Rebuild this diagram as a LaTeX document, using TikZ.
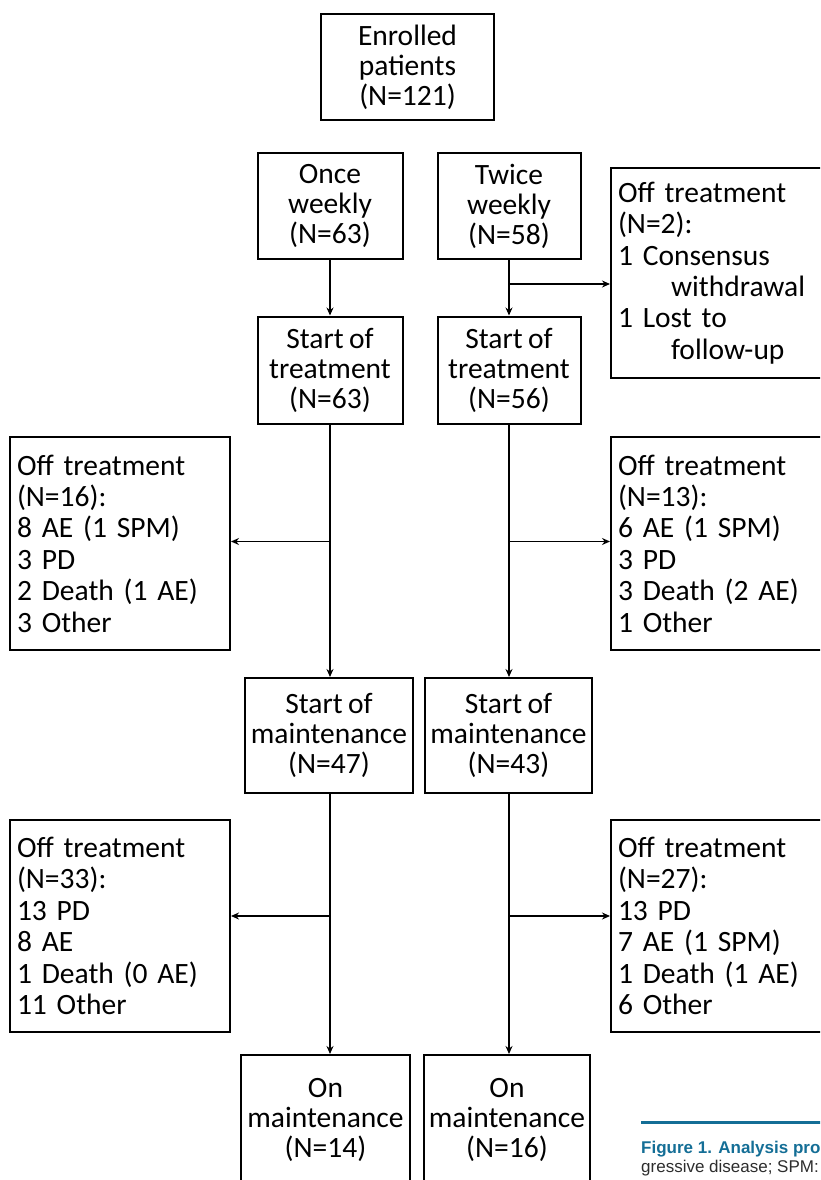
\documentclass[tikz,border=0pt]{standalone}
\usepackage{fontspec}
\setmainfont[WordSpace=0.8]{Carlito}
\newfontfamily\capfont{Liberation Sans}
\usetikzlibrary{arrows.meta,positioning,calc}
\definecolor{capblue}{RGB}{20,110,150}
\definecolor{capgray}{RGB}{45,45,45}
\tikzset{
  box/.style={draw, line width=2pt, align=center, inner sep=2pt,
    font=\fontsize{29.5}{30}\selectfont},
  offbox/.style={draw, line width=2pt, align=left, text width=#1,
    inner xsep=7pt, inner ysep=4pt, font=\fontsize{29.5}{31.4}\selectfont},
  offbox/.default=206pt,
  link/.style={->, line width=1.6pt}
}
\begin{document}
\begin{tikzpicture}[x=1pt, y=-1pt, >={Stealth[length=8pt,width=7pt]}, line join=miter]
  \useasboundingbox (0,0) rectangle (820,1180);
  \clip (0,0) rectangle (820,1180);
  % enrolment
  \node[box, minimum width=173, minimum height=106] (enrol) at (407.5,67) {Enrolled\\patients\\(N=121)};
  % arms
  \node[box, minimum width=145, minimum height=106] (once) at (330,206) {Once\\weekly\\(N=63)};
  \node[box, minimum width=143, minimum height=106] (twice) at (509,206) {Twice\\weekly\\(N=58)};
  \node[offbox=250pt, minimum height=210, anchor=west] (offpre) at (610,273)
    {Off treatment\\(N=2):\\1 Consensus\\\hspace*{1.8em}withdrawal\\1 Lost to\\\hspace*{1.8em}follow-up};
  % treatment
  \node[box, minimum width=145, minimum height=107] (treatl) at (330,370) {Start of\\treatment\\(N=63)};
  \node[box, minimum width=143, minimum height=107] (treatr) at (509,370) {Start of\\treatment\\(N=56)};
  \node[offbox, minimum height=213] (offtl) at (120,543.5)
    {Off treatment\\(N=16):\\8 AE (1 SPM)\\3 PD\\2 Death (1 AE)\\3 Other};
  \node[offbox=250pt, minimum height=213, anchor=west] (offtr) at (610,543.5)
    {Off treatment\\(N=13):\\6 AE (1 SPM)\\3 PD\\3 Death (2 AE)\\1 Other};
  % maintenance
  \node[box, minimum width=168, minimum height=115] (maintl) at (329,735.5) {Start of\\maintenance\\(N=47)};
  \node[box, minimum width=167, minimum height=115] (maintr) at (508.5,735.5) {Start of\\maintenance\\(N=43)};
  \node[offbox, minimum height=212] (offml) at (120,926)
    {Off treatment\\(N=33):\\13 PD\\8 AE\\1 Death (0 AE)\\11 Other};
  \node[offbox=250pt, minimum height=212, anchor=west] (offmr) at (610,926)
    {Off treatment\\(N=27):\\13 PD\\7 AE (1 SPM)\\1 Death (1 AE)\\6 Other};
  % still on maintenance
  \node[box, minimum width=169, minimum height=160] (onl) at (325.5,1135) {On\\maintenance\\(N=14)\\[4pt]};
  \node[box, minimum width=166, minimum height=160] (onr) at (507,1135) {On\\maintenance\\(N=16)\\[4pt]};
  % connectors
  \draw[link] (once.south) -- (once.south |- treatl.north);
  \draw[link] (twice.south) -- (twice.south |- treatr.north);
  \coordinate (spa) at ($(twice.south)+(0,24)$);
  \draw[link] (spa) -- (spa -| offpre.west);
  \draw[link] (treatl.south) -- (treatl.south |- maintl.north);
  \draw[link] (treatr.south) -- (treatr.south |- maintr.north);
  \coordinate (spl) at ($(treatl.south)+(0,117)$);
  \coordinate (spr) at ($(treatr.south)+(0,117)$);
  \draw[link] (spl) -- (spl -| offtl.east);
  \draw[link] (spr) -- (spr -| offtr.west);
  \draw[link] (treatl.south |- maintl.south) -- (treatl.south |- onl.north);
  \draw[link] (treatr.south |- maintr.south) -- (treatr.south |- onr.north);
  \coordinate (sml) at ($(treatl.south |- maintl.south)+(0,122)$);
  \coordinate (smr) at ($(treatr.south |- maintr.south)+(0,122)$);
  \draw[link] (sml) -- (sml -| offml.east);
  \draw[link] (smr) -- (smr -| offmr.west);
  % caption fragment
  \draw[capblue, line width=3pt] (641,1122) -- (830,1122);
  \node[anchor=base west, inner sep=0, text=capblue, font=\capfont\bfseries\fontsize{17}{20}\selectfont] (figcap) at (641,1153) {Figure 1. Analysis pro};
  \node[anchor=base west, inner sep=0, text=capgray, font=\capfont\fontsize{17}{20}\selectfont] (figtxt) at (641,1172) {gressive disease; SPM:};
\end{tikzpicture}
\end{document}
